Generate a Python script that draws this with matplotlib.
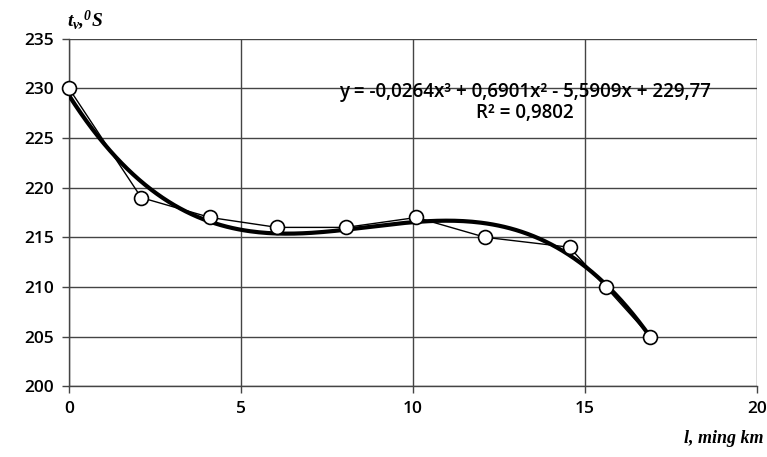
import numpy as np
import matplotlib.pyplot as plt

plt.rcParams['mathtext.fontset'] = 'custom'
plt.rcParams['mathtext.it'] = 'Liberation Serif:italic:bold'
plt.rcParams['mathtext.rm'] = 'Liberation Serif:italic:bold'

# Data
distance = [0, 2.1, 4.1, 6.05, 8.05, 10.1, 12.1, 14.55, 15.6, 16.9]
temperature = [230, 219, 217, 216, 216, 217, 215, 214, 210, 205]

x_ticks = [0, 5, 10, 15, 20]
y_ticks = [200, 205, 210, 215, 220, 225, 230, 235]

equation_text = "y = -0,0264x³ + 0,6901x² - 5,5909x + 229,77\nR² = 0,9802"

# Cubic trend line fitted to the points (as in the spreadsheet)
coefs = np.polyfit(distance, temperature, 3)
x_fit = np.linspace(distance[0], distance[-1], 200)
y_fit = np.polyval(coefs, x_fit)

fig = plt.figure(figsize=(7.67, 4.57), dpi=100)
ax = fig.add_axes([0.09, 0.155, 0.897, 0.76])

ax.plot(x_fit, y_fit, color='black', linewidth=3.0, zorder=3)
ax.plot(distance, temperature, color='black', linewidth=1.0, marker='o',
        markersize=10, markerfacecolor='white', markeredgecolor='black',
        markeredgewidth=1.2, zorder=4, clip_on=False)

ax.set_xlim(0, 20)
ax.set_ylim(200, 235)
ax.set_xticks(x_ticks)
ax.set_yticks(y_ticks)
ax.grid(True, color='#444444', linewidth=1.0)
ax.set_axisbelow(True)
for s in ax.spines.values():
    s.set_color('#444444')
    s.set_linewidth(1.0)
ax.spines['top'].set_visible(False)
ax.spines['right'].set_visible(False)

ax.tick_params(direction='out', length=5, width=1, color='#444444', pad=6)
for lbl in ax.get_xticklabels() + ax.get_yticklabels():
    lbl.set_fontfamily('Open Sans')
    lbl.set_fontweight('semibold')
    lbl.set_fontsize(12.5)

ax.text(13.25, 228.6, equation_text, ha='center', va='center', fontsize=13.5,
        fontfamily='Open Sans', fontweight='semibold', linespacing=1.1)

fig.text(0.088, 0.955, r"$t_v$,$^{0}S$", ha='left', va='center', fontsize=14,
         fontfamily='Liberation Serif', fontweight='bold', fontstyle='italic')
fig.text(0.995, 0.04, "l, ming km", ha='right', va='center', fontsize=13,
         fontfamily='Liberation Serif', fontweight='bold', fontstyle='italic')

fig.savefig('out.png', dpi=100)
